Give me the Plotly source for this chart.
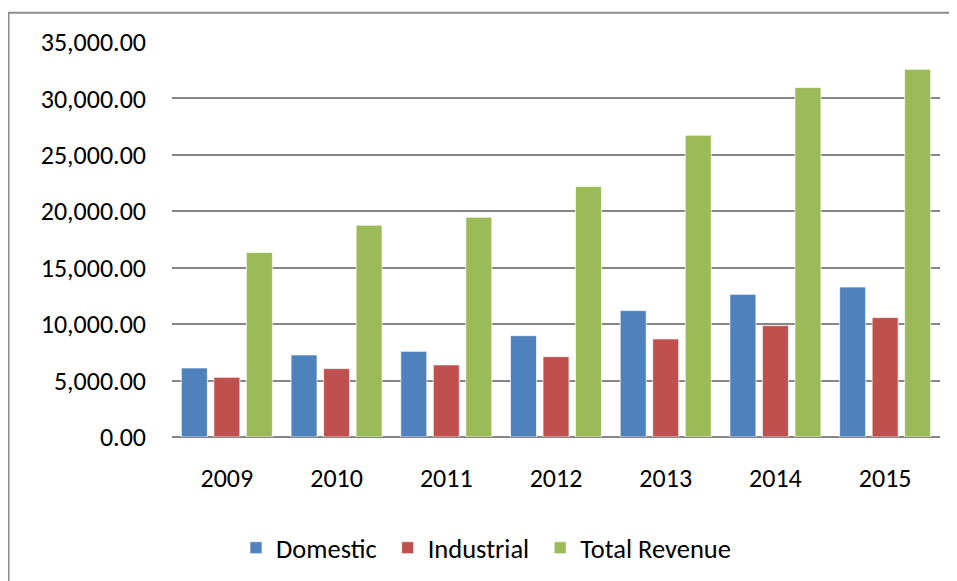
import plotly.graph_objects as go

years = ["2009", "2010", "2011", "2012", "2013", "2014", "2015"]
domestic = [6120, 7270, 7590, 8980, 11200, 12640, 13290]
industrial = [5290, 6060, 6390, 7120, 8690, 9870, 10580]
total_revenue = [16350, 18770, 19480, 22200, 26740, 30960, 32580]

series_names = ["Domestic", "Industrial", "Total Revenue"]
series_colors = ["#4F81BD", "#C0504D", "#9BBB59"]
series_values = [domestic, industrial, total_revenue]

y_ticks = [0, 5000, 10000, 15000, 20000, 25000, 30000, 35000]

FONT = "Carlito, Calibri, Lato, sans-serif"

fig = go.Figure()
for name, color, vals in zip(series_names, series_colors, series_values):
    fig.add_trace(go.Bar(
        x=years, y=vals, name=name + "\u00a0",
        marker=dict(color=color, line=dict(color="rgba(255,255,255,0.7)", width=1)),
    ))

OFF = 8  # page body margin
W, H = 957 - OFF, 581 - OFF
L, T = 172 - OFF, 42 - OFF
R = W - (940 - OFF)
B = H - (437 - OFF)
plot_w = W - L - R
plot_h = H - T - B

def px_x(px):
    return (px - OFF - L) / plot_w

def px_y(py):
    return (H - B - (py - OFF)) / plot_h

fig.update_layout(
    width=W, height=H,
    margin=dict(l=L, r=R, t=T, b=B, pad=0, autoexpand=False),
    paper_bgcolor="white", plot_bgcolor="white",
    barmode="group", bargap=0.111, bargroupgap=0.2,
    font=dict(family=FONT, size=26, color="#000000"),
    showlegend=True,
    legend=dict(
        orientation="h", x=px_x(236), xanchor="left",
        yref="container", y=(H - (548 - OFF)) / H, yanchor="middle",
        font=dict(family=FONT, size=26.5), itemwidth=30,
        traceorder="normal", bgcolor="rgba(0,0,0,0)",
    ),
    xaxis=dict(
        showgrid=False, showline=False, zeroline=False,
        ticks="", ticklabelstandoff=23, tickfont=dict(size=26),
    ),
    yaxis=dict(
        range=[0, 35000], tickvals=y_ticks,
        ticktext=[f"{v:,.2f}" for v in y_ticks],
        showgrid=True, gridcolor="#868686", gridwidth=2,
        zeroline=True, zerolinecolor="#868686", zerolinewidth=2,
        showline=False, ticks="", ticklabelstandoff=25,
        tickfont=dict(size=26),
    ),
    shapes=[dict(
        type="rect", xref="paper", yref="paper",
        x0=px_x(8.5), x1=px_x(1000), y0=px_y(700), y1=px_y(12.7),
        line=dict(color="#8C8C8C", width=2), fillcolor="rgba(0,0,0,0)", layer="below",
    )],
)

fig.write_html("out.html")
